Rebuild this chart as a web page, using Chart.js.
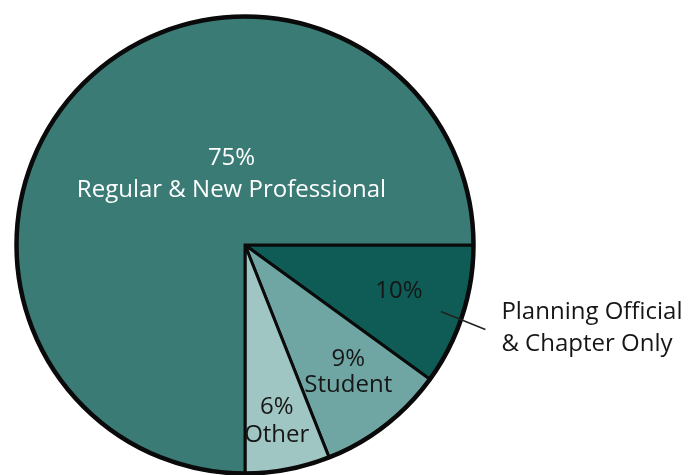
<!DOCTYPE html>
<html>
<head>
<meta charset="utf-8">
<script src="https://cdn.jsdelivr.net/npm/chart.js@4"></script>
<style>
  html, body { margin: 0; padding: 0; background: #ffffff; }
  #wrap { width: 688px; height: 475px; position: relative; }
</style>
</head>
<body>
<div id="wrap"><canvas id="c" width="688" height="475"></canvas></div>
<script>
// ---- data ----
const categories = ["Planning Official & Chapter Only", "Student", "Other", "Regular & New Professional"];
const values = [10, 9, 6, 75];
const percentLabels = ["10%", "9%", "6%", "75%"];
const sliceNames = ["", "Student", "Other", "Regular & New Professional"];
const outsideLabel = ["Planning Official", "& Chapter Only"];

// ---- styling / layout (not data) ----
const colors = ["#0e5c55", "#6fa6a3", "#a0c6c4", "#3b7b76"];
const textColors = ["#161616", "#161616", "#161616", "#ffffff"];
// label block anchor relative to pie center, in units of radius
const labelAnchors = [[0.674, 0.202], [0.452, 0.557], [0.139, 0.770], [-0.059, -0.309]];
const lineGaps = [0, 26, 28, 31.5];
const FONT = '"Open Sans", sans-serif';

const labelPlugin = {
  id: 'sliceLabels',
  afterDatasetsDraw(chart) {
    const ctx = chart.ctx;
    const meta = chart.getDatasetMeta(0);
    const arc0 = meta.data[0];
    const cx = arc0.x, cy = arc0.y, R = arc0.outerRadius;
    // outer ring, thicker
    ctx.save();
    ctx.beginPath();
    ctx.arc(cx, cy, R, 0, Math.PI * 2);
    ctx.lineWidth = 4.5;
    ctx.strokeStyle = '#0a0a0a';
    ctx.stroke();
    ctx.restore();

    ctx.save();
    ctx.textAlign = 'center';
    ctx.textBaseline = 'middle';
    ctx.font = '24px ' + FONT;
    meta.data.forEach((arc, i) => {
      const ax = cx + labelAnchors[i][0] * R;
      const ay = cy + labelAnchors[i][1] * R;
      ctx.fillStyle = textColors[i];
      if (sliceNames[i]) {
        ctx.fillText(percentLabels[i], ax, ay - lineGaps[i] / 2);
        ctx.fillText(sliceNames[i], ax, ay + lineGaps[i] / 2);
      } else {
        ctx.fillText(percentLabels[i], ax, ay);
      }
    });
    // outside label with leader line
    ctx.beginPath();
    ctx.moveTo(cx + 0.857 * R, cy + 0.291 * R);
    ctx.lineTo(cx + 1.052 * R, cy + 0.370 * R);
    ctx.lineWidth = 1.5;
    ctx.strokeStyle = '#222';
    ctx.stroke();
    ctx.fillStyle = '#161616';
    ctx.textAlign = 'left';
    ctx.fillText(outsideLabel[0], cx + 1.122 * R, cy + 0.365 * R - 16);
    ctx.fillText(outsideLabel[1], cx + 1.122 * R, cy + 0.365 * R + 16);
    ctx.restore();
  }
};

new Chart(document.getElementById('c'), {
  type: 'pie',
  data: {
    labels: categories,
    datasets: [{
      data: values,
      backgroundColor: colors,
      borderColor: '#0a0a0a',
      borderWidth: 3,
      borderJoinStyle: 'miter'
    }]
  },
  options: {
    responsive: false,
    animation: false,
    rotation: 90,
    layout: { padding: { left: 15, top: 15, right: 213, bottom: 0 } },
    plugins: { legend: { display: false }, tooltip: { enabled: false } }
  },
  plugins: [labelPlugin]
});
</script>
</body>
</html>
